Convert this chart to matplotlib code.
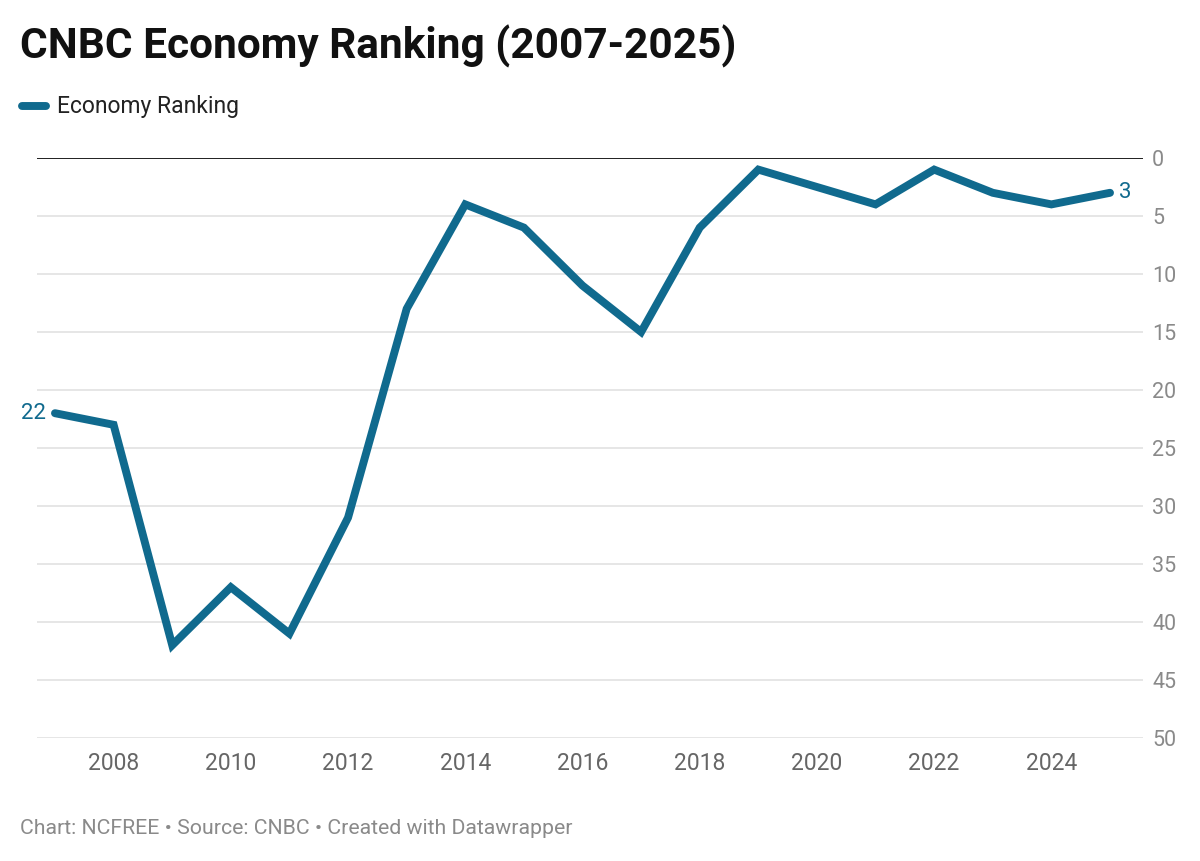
import matplotlib.pyplot as plt
import matplotlib.lines as mlines

plt.rcParams['font.family'] = ['Roboto', 'DejaVu Sans']

# CNBC did not run the study in 2020, so that year is missing
years = [2007, 2008, 2009, 2010, 2011, 2012, 2013, 2014, 2015, 2016, 2017,
         2018, 2019, 2021, 2022, 2023, 2024, 2025]
ranking = [22, 23, 42, 37, 41, 31, 13, 4, 6, 11, 15, 6, 1, 4, 1, 3, 4, 3]
xticks = [2008, 2010, 2012, 2014, 2016, 2018, 2020, 2022, 2024]
yticks = [0, 5, 10, 15, 20, 25, 30, 35, 40, 45, 50]

blue = '#106a8e'
gray = '#8a8a8a'

fig = plt.figure(figsize=(12, 8.61), dpi=100)
ax = fig.add_axes([37/1200, 1 - 738/861, (1143 - 37)/1200, (738 - 158)/861])

ax.plot(years, ranking, color=blue, lw=5.7, solid_joinstyle='miter',
        solid_capstyle='round', zorder=3)
ax.text(years[0] - 0.15, ranking[0], str(ranking[0]), color=blue, fontsize=16,
        ha='right', va='center')
ax.text(years[-1] + 0.15, ranking[-1], str(ranking[-1]), color=blue, fontsize=16,
        ha='left', va='center')

ax.set_xlim(2006.693, 2025.563)
ax.set_ylim(50, 0)
ax.set_yticks(yticks)
ax.set_xticks(xticks)
ax.yaxis.tick_right()
ax.tick_params(axis='y', length=0, pad=6.5, labelsize=15.5, labelcolor=gray)
ax.tick_params(axis='x', length=0, pad=10, labelsize=16.5, labelcolor='#666666')
for t in ax.get_yticklabels():
    t.set_horizontalalignment('left')
ax.grid(axis='y', color='#e2e2e2', lw=1.2, zorder=0)
ax.axhline(0, color='#111111', lw=1.3, zorder=2)
for s in ax.spines.values():
    s.set_visible(False)

fig.text(20/1200, 1 - 46/861, 'CNBC Economy Ranking (2007-2025)', fontsize=30.5,
         fontweight='bold', ha='left', va='center', color='#111111')
fig.add_artist(mlines.Line2D([22/1200, 46/1200], [1 - 106/861, 1 - 106/861],
                             color=blue, lw=5.7, solid_capstyle='round'))
fig.text(57/1200, 1 - 106/861, 'Economy Ranking', fontsize=16.5, ha='left',
         va='center', color='#222222')
fig.text(20/1200, 1 - 829/861, 'Chart: NCFREE • Source: CNBC • Created with Datawrapper',
         fontsize=15.3, ha='left', va='center', color=gray)

fig.savefig('out.png', dpi=100)
